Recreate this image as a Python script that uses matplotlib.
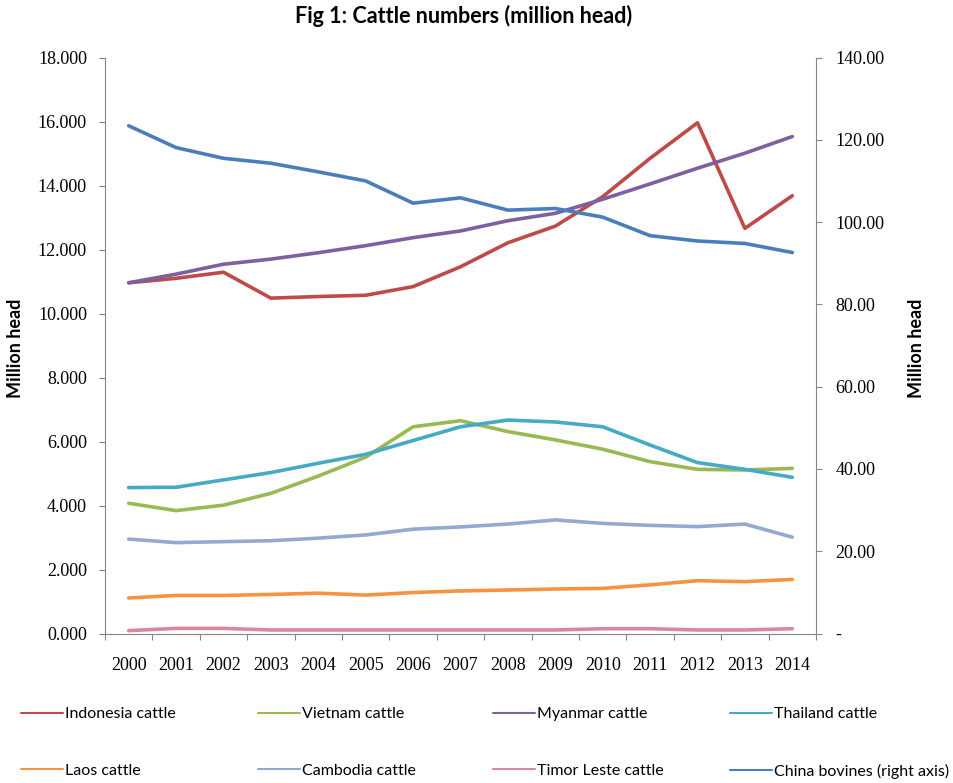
import matplotlib
matplotlib.use("Agg")
import matplotlib.pyplot as plt
from matplotlib.ticker import FixedLocator, FuncFormatter

# ---- data (million head) ----
years = [str(y) for y in range(2000, 2015)]

indonesia = [10.96, 11.10, 11.29, 10.48, 10.53, 10.57, 10.84, 11.46, 12.21, 12.73, 13.65, 14.85, 15.96, 12.66, 13.68]
vietnam   = [4.07, 3.84, 4.01, 4.38, 4.92, 5.51, 6.46, 6.65, 6.31, 6.05, 5.76, 5.37, 5.13, 5.11, 5.16]
myanmar   = [10.96, 11.23, 11.54, 11.70, 11.90, 12.12, 12.37, 12.58, 12.90, 13.13, 13.57, 14.05, 14.54, 15.01, 15.53]
thailand  = [4.56, 4.57, 4.80, 5.03, 5.32, 5.60, 6.03, 6.46, 6.67, 6.61, 6.46, 5.89, 5.34, 5.13, 4.88]
laos      = [1.11, 1.19, 1.19, 1.22, 1.26, 1.20, 1.28, 1.33, 1.36, 1.39, 1.41, 1.52, 1.65, 1.62, 1.69]
cambodia  = [2.95, 2.84, 2.87, 2.90, 2.98, 3.08, 3.26, 3.33, 3.42, 3.55, 3.44, 3.38, 3.34, 3.42, 3.01]
timor     = [0.09, 0.16, 0.16, 0.11, 0.11, 0.11, 0.11, 0.11, 0.11, 0.11, 0.15, 0.15, 0.11, 0.11, 0.15]
china     = [123.4, 118.1, 115.5, 114.3, 112.2, 110.0, 104.6, 105.9, 102.9, 103.3, 101.2, 96.7, 95.4, 94.8, 92.6]

left_series = [
    ("Indonesia cattle", indonesia, "#BE4B48"),
    ("Vietnam cattle", vietnam, "#98B954"),
    ("Myanmar cattle", myanmar, "#7D60A0"),
    ("Thailand cattle", thailand, "#46AAC5"),
    ("Laos cattle", laos, "#F69240"),
    ("Cambodia cattle", cambodia, "#94A9CF"),
    ("Timor Leste cattle", timor, "#D9889C"),
]
china_label = "China bovines (right axis)"
china_color = "#4A7EBB"

# ---- fonts ----
sans = "Lato"
serif = "Liberation Serif"
legend_size = 11.5
title_size = 15.5

W, H = 954, 783
fig = plt.figure(figsize=(W / 100, H / 100), dpi=100)
ax = fig.add_axes([105 / W, 1 - 633.5 / H, (816 - 105) / W, (633.5 - 57.5) / H])
ax2 = ax.twinx()

xs = list(range(len(years)))
handles = {}
for name, vals, col in left_series:
    (ln,) = ax.plot(xs, vals, color=col, lw=2.6, solid_joinstyle="round", solid_capstyle="round")
    handles[name] = ln
(cl,) = ax2.plot(xs, china, color=china_color, lw=2.6, solid_joinstyle="round", solid_capstyle="round")
handles[china_label] = cl

# ---- axes ----
grey = "#868686"
ax.set_xlim(-0.5, len(years) - 0.5)
ax.set_ylim(0, 18)
ax2.set_ylim(0, 140)

ax.xaxis.set_major_locator(FixedLocator([i - 0.5 for i in range(len(years) + 1)]))
ax.xaxis.set_minor_locator(FixedLocator(xs))
ax.set_xticklabels([], minor=False)
ax.set_xticklabels(years, minor=True, fontfamily=serif, fontsize=13)
ax.tick_params(axis="x", which="major", direction="out", length=4, color=grey, labelbottom=False)
ax.tick_params(axis="x", which="minor", length=0, pad=17)

ax.yaxis.set_major_locator(FixedLocator([v for v in range(0, 19, 2)]))
ax.yaxis.set_major_formatter(FuncFormatter(lambda v, p: f"{v:.3f}"))
ax.tick_params(axis="y", direction="out", length=4, color=grey, pad=9, labelsize=13)
for t in ax.get_yticklabels():
    t.set_fontfamily(serif)

ax2.yaxis.set_major_locator(FixedLocator([v for v in range(0, 141, 20)]))
ax2.yaxis.set_major_formatter(FuncFormatter(lambda v, p: "-" if v == 0 else f"{v:.2f}"))
ax2.tick_params(axis="y", direction="out", length=4, color=grey, pad=10, labelsize=13)
for t in ax2.get_yticklabels():
    t.set_fontfamily(serif)

for sp in ("top", "right"):
    ax.spines[sp].set_visible(False)
for sp in ("top", "left", "bottom"):
    ax2.spines[sp].set_visible(False)
ax.spines["left"].set_color(grey)
ax.spines["bottom"].set_color(grey)
ax2.spines["right"].set_color(grey)

# ---- texts ----
fig.text(464 / W, 1 - 23 / H, "Fig 1: Cattle numbers (million head)", ha="center", va="baseline",
         fontfamily=sans, fontweight="bold", fontsize=title_size)
fig.text(16 / W, 1 - 348 / H, "Million head", rotation=90, ha="center", va="center",
         fontfamily=sans, fontweight="bold", fontsize=13)
fig.text(917 / W, 1 - 348 / H, "Million head", rotation=90, ha="center", va="center",
         fontfamily=sans, fontweight="bold", fontsize=13)

# ---- legend: 4 columns x 2 rows ----
order = [
    ["Indonesia cattle", "Vietnam cattle", "Myanmar cattle", "Thailand cattle"],
    ["Laos cattle", "Cambodia cattle", "Timor Leste cattle", china_label],
]
col_x = [21, 258, 493, 730]
row_y = [714, 771]
for r, row in enumerate(order):
    for c, name in enumerate(row):
        leg = fig.legend([handles[name]], [name], loc="center left",
                         bbox_to_anchor=(col_x[c] / W, 1 - row_y[r] / H),
                         frameon=False, borderpad=0, borderaxespad=0,
                         handlelength=42 / (legend_size * 100 / 72), handletextpad=0.15,
                         prop={"family": sans, "size": legend_size})
        for ln in leg.get_lines():
            ln.set_linewidth(1.5)

fig.savefig("out.png", dpi=100, facecolor="white")
